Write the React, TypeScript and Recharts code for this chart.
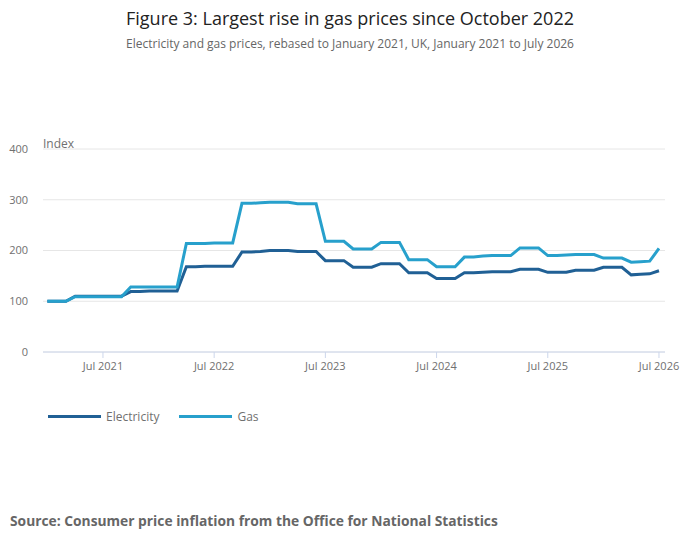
import React from 'react'
import { LineChart, Line, XAxis, YAxis, CartesianGrid } from 'recharts'

// month index 0 = Jan 2021 ... 66 = Jul 2026
const months = Array.from({ length: 67 }, (_, i) => i)

const electricity = [
  100, 100, 100, 110, 110, 110, 110, 110, 110, // Jan-Sep 2021
  119, 119, 120, 120, 120, 120, // Oct 2021-Mar 2022
  168, 168, 169, 169, 169, 169, // Apr-Sep 2022
  197, 197, 198, 200, 200, 200, // Oct 2022-Mar 2023
  198, 198, 198, // Apr-Jun 2023
  180, 180, 180, // Jul-Sep 2023
  167, 167, 167, // Oct-Dec 2023
  174, 174, 174, // Jan-Mar 2024
  156, 156, 156, // Apr-Jun 2024
  145, 145, 145, // Jul-Sep 2024
  156, 156, 157, // Oct-Dec 2024
  158, 158, 158, // Jan-Mar 2025
  163, 163, 163, // Apr-Jun 2025
  157, 157, 157, // Jul-Sep 2025
  161, 161, 161, // Oct-Dec 2025
  167, 167, 167, // Jan-Mar 2026
  152, 153, 154, // Apr-Jun 2026
  160 // Jul 2026
]

const gas = [
  100, 100, 100, 109, 109, 109, 109, 109, 109,
  128, 128, 128, 128, 128, 128,
  214, 214, 214, 215, 215, 215,
  293, 293, 294, 295, 295, 295,
  292, 292, 292,
  218, 218, 218,
  203, 203, 203,
  216, 216, 216,
  182, 182, 182,
  168, 168, 168,
  187, 187, 189,
  190, 190, 190,
  205, 205, 205,
  190, 190, 191,
  192, 192, 192,
  185, 185, 185,
  177, 178, 179,
  204
]

const tickMonths = [6, 18, 30, 42, 54, 66]
const tickLabels = ['Jul 2021', 'Jul 2022', 'Jul 2023', 'Jul 2024', 'Jul 2025', 'Jul 2026']
const yTicks = [0, 100, 200, 300, 400]

const ELEC_COLOR = '#206095'
const GAS_COLOR = '#27a0cc'
const FONT = '"Open Sans", sans-serif'

const data = months.map((m, i) => ({ m, electricity: electricity[i], gas: gas[i] }))

export default function App() {
  return (
    <div
      style={{
        position: 'fixed',
        top: 0,
        left: 0,
        width: 700,
        height: 549,
        background: '#fff',
        fontFamily: FONT
      }}
    >
      {/* Title and subtitle */}
      <div
        style={{
          position: 'absolute',
          top: 6,
          width: 700,
          textAlign: 'center',
          fontSize: 18,
          color: '#222',
          lineHeight: '24px'
        }}
      >
        Figure 3: Largest rise in gas prices since October 2022
      </div>
      <div
        style={{
          position: 'absolute',
          top: 36,
          width: 700,
          textAlign: 'center',
          fontSize: 12,
          color: '#666',
          lineHeight: '16px'
        }}
      >
        Electricity and gas prices, rebased to January 2021, UK, January 2021 to July 2026
      </div>

      <div style={{ position: 'absolute', top: 135, left: 43, fontSize: 12, color: '#707070' }}>
        Index
      </div>

      <div style={{ position: 'absolute', top: 0, left: 0 }}>
        <LineChart
          width={700}
          height={400}
          data={data}
          margin={{ top: 149, right: 35, left: 0, bottom: 18 }}
        >
          <CartesianGrid stroke="#e6e6e6" vertical={false} />
          <XAxis
            dataKey="m"
            type="number"
            domain={[-0.47, 66.65]}
            ticks={tickMonths}
            tickFormatter={(v) => tickLabels[tickMonths.indexOf(v)]}
            axisLine={{ stroke: '#ccd6eb' }}
            tickLine={{ stroke: '#ccd6eb' }}
            tickSize={6}
            tickMargin={4}
            height={30}
            tick={{ fontSize: 11, fill: '#707070', fontFamily: FONT }}
            interval={0}
          />
          <YAxis
            type="number"
            domain={[0, 400]}
            ticks={yTicks}
            axisLine={false}
            tickLine={false}
            tickSize={0}
            tickMargin={15}
            width={43}
            tick={{ fontSize: 11, fill: '#707070', fontFamily: FONT }}
          />
          <Line
            type="linear"
            dataKey="electricity"
            name="Electricity"
            stroke={ELEC_COLOR}
            strokeWidth={3}
            dot={false}
            isAnimationActive={false}
          />
          <Line
            type="linear"
            dataKey="gas"
            name="Gas"
            stroke={GAS_COLOR}
            strokeWidth={3}
            dot={false}
            isAnimationActive={false}
          />
        </LineChart>
      </div>

      {/* Legend */}
      <div style={{ position: 'absolute', top: 408, left: 48, display: 'flex', alignItems: 'center', fontSize: 12, color: '#707070' }}>
        <span style={{ display: 'inline-block', width: 53, height: 3, background: ELEC_COLOR, marginRight: 5 }} />
        <span style={{ marginRight: 20 }}>Electricity</span>
        <span style={{ display: 'inline-block', width: 53, height: 3, background: GAS_COLOR, marginRight: 5 }} />
        <span>Gas</span>
      </div>

      {/* Source */}
      <div
        style={{
          position: 'absolute',
          top: 511,
          left: 10,
          fontSize: 13.8,
          fontWeight: 'bold',
          color: '#666'
        }}
      >
        Source: Consumer price inflation from the Office for National Statistics
      </div>
    </div>
  )
}
